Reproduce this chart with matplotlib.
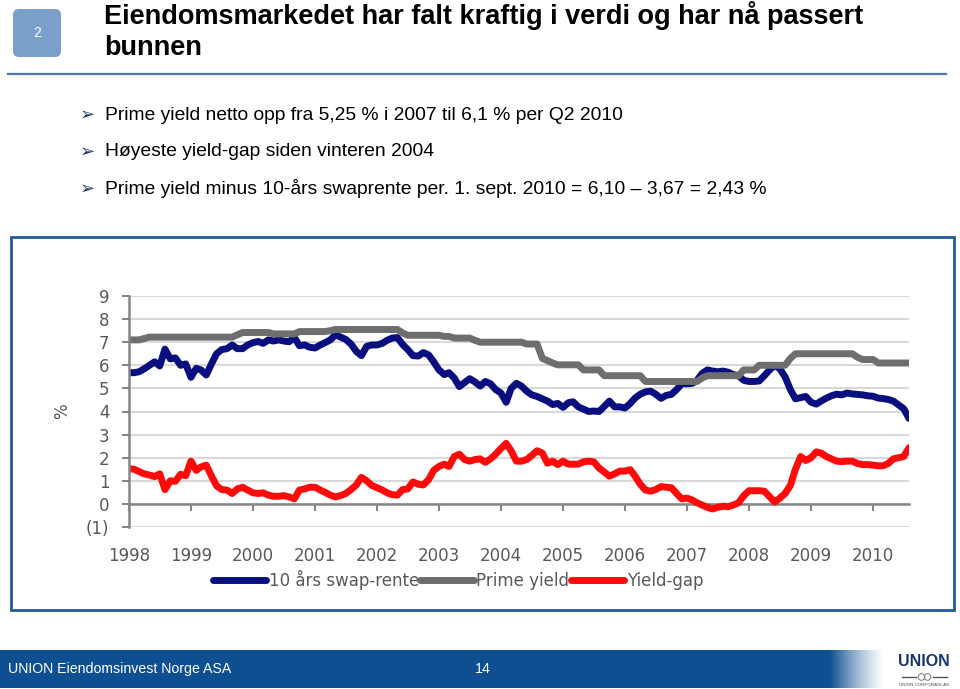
import matplotlib
matplotlib.use("Agg")
import matplotlib.pyplot as plt
from matplotlib.patches import FancyBboxPatch, Rectangle, Circle
import numpy as np
import pandas as pd

# ---------------- data (monthly, Jan 1998 - Aug 2010) ----------------
months = pd.date_range("1998-01-01", periods=152, freq="MS")

swap_10y = [
    5.68, 5.68, 5.72, 5.85, 6.00, 6.15, 5.97, 6.70, 6.28, 6.32, 6.00, 6.06,
    5.48, 5.87, 5.80, 5.58, 6.05, 6.50, 6.68, 6.72, 6.88, 6.72, 6.72, 6.88,
    6.98, 7.03, 6.95, 7.10, 7.05, 7.10, 7.05, 7.02, 7.20, 6.85, 6.88, 6.78,
    6.75, 6.88, 6.98, 7.10, 7.32, 7.22, 7.12, 6.92, 6.60, 6.42, 6.82, 6.88,
    6.88, 6.95, 7.08, 7.18, 7.20, 6.90, 6.68, 6.42, 6.40, 6.55, 6.45, 6.15,
    5.80, 5.60, 5.68, 5.45, 5.08, 5.25, 5.42, 5.28, 5.10, 5.30, 5.20, 4.95,
    4.80, 4.40, 5.00, 5.22, 5.10, 4.88, 4.72, 4.65, 4.55, 4.45, 4.30, 4.35,
    4.18, 4.38, 4.42, 4.20, 4.10, 4.00, 4.02, 4.00, 4.22, 4.45, 4.20, 4.20,
    4.15, 4.35, 4.58, 4.75, 4.85, 4.88, 4.75, 4.57, 4.70, 4.74, 4.95, 5.20,
    5.20, 5.22, 5.35, 5.65, 5.80, 5.75, 5.72, 5.75, 5.70, 5.60, 5.55, 5.35,
    5.30, 5.30, 5.32, 5.55, 5.80, 6.00, 5.85, 5.50, 4.95, 4.55, 4.60, 4.65,
    4.40, 4.32, 4.45, 4.58, 4.68, 4.75, 4.72, 4.80, 4.76, 4.74, 4.72, 4.68,
    4.66, 4.58, 4.56, 4.52, 4.45, 4.28, 4.12, 3.70,
]

prime_yield = [
    7.10, 7.10, 7.10, 7.16, 7.22, 7.22, 7.22, 7.22, 7.22, 7.22, 7.22, 7.22,
    7.22, 7.22, 7.22, 7.22, 7.22, 7.22, 7.22, 7.22, 7.22, 7.32, 7.42, 7.42,
    7.42, 7.42, 7.42, 7.42, 7.36, 7.36, 7.36, 7.36, 7.36, 7.46, 7.46, 7.46,
    7.46, 7.46, 7.46, 7.50, 7.55, 7.55, 7.55, 7.55, 7.55, 7.55, 7.55, 7.55,
    7.55, 7.55, 7.55, 7.55, 7.55, 7.40, 7.30, 7.30, 7.30, 7.30, 7.30, 7.30,
    7.30, 7.25, 7.25, 7.18, 7.18, 7.18, 7.18, 7.08, 7.00, 7.00, 7.00, 7.00,
    7.00, 7.00, 7.00, 7.00, 7.00, 6.92, 6.92, 6.92, 6.30, 6.20, 6.10, 6.02,
    6.02, 6.02, 6.02, 6.02, 5.80, 5.80, 5.80, 5.80, 5.55, 5.55, 5.55, 5.55,
    5.55, 5.55, 5.55, 5.55, 5.30, 5.30, 5.30, 5.30, 5.30, 5.30, 5.30, 5.30,
    5.30, 5.30, 5.30, 5.45, 5.55, 5.55, 5.55, 5.55, 5.55, 5.55, 5.55, 5.80,
    5.80, 5.80, 6.00, 6.00, 6.00, 6.00, 6.00, 6.00, 6.30, 6.50, 6.50, 6.50,
    6.50, 6.50, 6.50, 6.50, 6.50, 6.50, 6.50, 6.50, 6.50, 6.35, 6.25, 6.25,
    6.25, 6.10, 6.10, 6.10, 6.10, 6.10, 6.10, 6.10,
]

yield_gap = [
    1.52, 1.50, 1.40, 1.30, 1.25, 1.18, 1.30, 0.62, 1.00, 0.98, 1.28, 1.22,
    1.85, 1.45, 1.60, 1.68, 1.22, 0.78, 0.62, 0.60, 0.45, 0.65, 0.72, 0.60,
    0.48, 0.45, 0.48, 0.38, 0.33, 0.33, 0.36, 0.30, 0.22, 0.60, 0.65, 0.72,
    0.72, 0.60, 0.50, 0.38, 0.30, 0.36, 0.45, 0.62, 0.82, 1.15, 1.00, 0.80,
    0.70, 0.60, 0.48, 0.40, 0.38, 0.62, 0.65, 0.95, 0.85, 0.82, 1.05, 1.45,
    1.62, 1.72, 1.62, 2.05, 2.15, 1.92, 1.85, 1.92, 1.95, 1.80, 1.95, 2.15,
    2.40, 2.62, 2.30, 1.85, 1.85, 1.92, 2.10, 2.30, 2.20, 1.76, 1.85, 1.70,
    1.85, 1.72, 1.72, 1.72, 1.82, 1.85, 1.82, 1.55, 1.38, 1.20, 1.30, 1.42,
    1.42, 1.48, 1.20, 0.85, 0.60, 0.55, 0.62, 0.75, 0.72, 0.70, 0.45, 0.22,
    0.25, 0.17, 0.05, -0.05, -0.15, -0.22, -0.15, -0.10, -0.12, -0.05, 0.05, 0.35,
    0.57, 0.57, 0.57, 0.55, 0.32, 0.08, 0.25, 0.45, 0.80, 1.50, 2.05, 1.88,
    2.00, 2.25, 2.20, 2.05, 1.95, 1.85, 1.83, 1.85, 1.85, 1.75, 1.70, 1.70,
    1.68, 1.65, 1.65, 1.75, 1.95, 2.00, 2.05, 2.43,
]

series_names = ["10 års swap-rente", "Prime yield", "Yield-gap"]
series_colors = ["#0A0F80", "#6E6E6E", "#FF0A0A"]
year_labels = [str(y) for y in range(1998, 2011)]
y_ticks = [-1, 0, 1, 2, 3, 4, 5, 6, 7, 8, 9]
y_tick_labels = ["(1)", "0", "1", "2", "3", "4", "5", "6", "7", "8", "9"]

title_lines = ["Eiendomsmarkedet har falt kraftig i verdi og har nå passert", "bunnen"]
bullets = [
    "Prime yield netto opp fra 5,25 % i 2007 til 6,1 % per Q2 2010",
    "Høyeste yield-gap siden vinteren 2004",
    "Prime yield minus 10-års swaprente per. 1. sept. 2010 = 6,10 – 3,67 = 2,43 %",
]

# ---------------- figure ----------------
W, H = 960, 689
fig = plt.figure(figsize=(W / 100, H / 100), dpi=100)
fig.patch.set_facecolor("white")

sans = ["Liberation Sans", "DejaVu Sans"]

# slide background layer (pixel coordinates)
bg = fig.add_axes([0, 0, 1, 1])
bg.set_xlim(0, W)
bg.set_ylim(H, 0)
bg.axis("off")

bg.add_patch(FancyBboxPatch((13, 9), 48, 48, boxstyle="round,pad=0,rounding_size=6",
                            fc="#7A9FCB", ec="none"))
bg.text(37, 33, "2", color="white", fontsize=10, ha="center", va="center", family=sans)
bg.text(104, 16, title_lines[0], fontsize=19.5, fontweight="bold", family=sans,
        ha="left", va="center", color="black")
bg.text(104, 48, title_lines[1], fontsize=19.5, fontweight="bold", family=sans,
        ha="left", va="center", color="black")
bg.plot([8, 946], [74, 74], color="#4A78AC", lw=1.6)

for i, b in enumerate(bullets):
    yy = 115 + i * 37
    bg.text(80, yy, "➢", fontsize=13, family=["DejaVu Sans"], color="#1F3864",
            ha="left", va="center")
    bg.text(105, yy, b, fontsize=13.9, family=sans, ha="left", va="center",
            color="black")

# chart frame
bg.add_patch(Rectangle((11, 237), 943, 373, fill=False, ec="#1F5C99", lw=2))

# footer
bg.add_patch(Rectangle((0, 650), 830, 38, fc="#0D4F91", ec="none"))
grad = np.zeros((1, 200, 4))
grad[..., 0] = 0x0D / 255
grad[..., 1] = 0x4F / 255
grad[..., 2] = 0x91 / 255
grad[..., 3] = np.linspace(1, 0, 200) ** 1.3
bg.imshow(grad, extent=(830, 885, 688, 650), aspect="auto", interpolation="bilinear")
bg.set_xlim(0, W)
bg.set_ylim(H, 0)
bg.text(8, 669, "UNION Eiendomsinvest Norge ASA", color="white", fontsize=10.2,
        family=sans, ha="left", va="center")
bg.text(483, 669, "14", color="white", fontsize=10.2, family=sans, ha="center", va="center")

# logo
bg.text(924, 661, "UNION", color="#17386B", fontsize=11.5, fontweight="bold",
        family=sans, ha="center", va="center")
bg.plot([902, 916], [677, 677], color="#555555", lw=1)
bg.plot([933, 947], [677, 677], color="#555555", lw=1)
bg.add_patch(Circle((921.5, 677), 3.3, fill=False, ec="#888888", lw=0.8))
bg.add_patch(Circle((927.5, 677), 3.3, fill=False, ec="#888888", lw=0.8))
bg.text(924, 685, "UNION CORPORATE AS", color="#444444", fontsize=3.2,
        family=sans, ha="center", va="center")

# ---------------- chart ----------------
ax = fig.add_axes([129 / W, 1 - 527 / H, 780 / W, 231 / H])
ax.patch.set_alpha(0)

for vals, name, col in zip([swap_10y, prime_yield, yield_gap], series_names, series_colors):
    ax.plot(months, vals, color=col, lw=5, label=name,
            solid_joinstyle="round", solid_capstyle="round")

ax.set_xlim(months[0], months[-1])
ax.set_ylim(-1, 9)
ax.set_yticks(y_ticks)
ax.set_yticklabels(y_tick_labels)
ax.yaxis.grid(True, color="#D9D9D9", lw=1.5)
ax.set_axisbelow(True)

year_pos = [pd.Timestamp(f"{y}-01-01") for y in year_labels]
ax.set_xticks(year_pos)
ax.set_xticklabels(year_labels)

for s in ["top", "right"]:
    ax.spines[s].set_visible(False)
ax.spines["bottom"].set_position(("data", 0))
for s in ["bottom", "left"]:
    ax.spines[s].set_color("#868686")
    ax.spines[s].set_linewidth(1.8)
ax.spines["bottom"].set_zorder(1.5)

ax.tick_params(axis="x", direction="out", length=5, width=1.5, color="#868686",
               labelsize=12, labelcolor="#595959", pad=26)
ax.tick_params(axis="y", direction="out", length=5, width=1.5, color="#868686",
               labelsize=12, labelcolor="#595959", pad=9)
for lab in ax.get_xticklabels() + ax.get_yticklabels():
    lab.set_family("DejaVu Sans")

bg.text(62, 411, "%", rotation=90, fontsize=12, color="#595959",
        ha="center", va="center", family=["DejaVu Sans"])

leg = ax.legend(loc="center", bbox_to_anchor=(458 / W, 1 - 580 / H),
                bbox_transform=fig.transFigure, ncol=3, frameon=False,
                handlelength=3.2, handletextpad=0.15, columnspacing=0.1,
                borderaxespad=0, borderpad=0,
                prop={"family": "DejaVu Sans", "size": 12})
for t in leg.get_texts():
    t.set_color("#595959")

fig.savefig("out.png", dpi=100, facecolor="white")
